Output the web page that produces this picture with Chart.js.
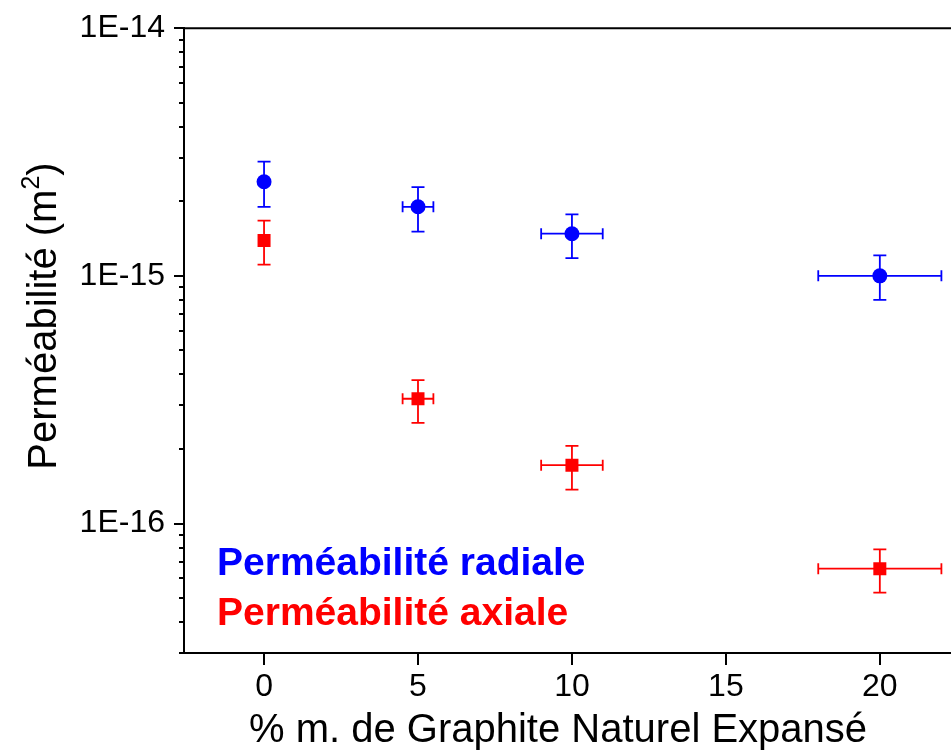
<!DOCTYPE html>
<html>
<head>
<meta charset="utf-8">
<script src="https://cdn.jsdelivr.net/npm/chart.js@4.4.1/dist/chart.umd.min.js"></script>
<style>
  html, body { margin: 0; padding: 0; background: #fff; }
  #wrap { width: 951px; height: 751px; overflow: hidden; position: relative; }
  #wrap canvas { position: absolute; left: 0; top: 0; }
</style>
</head>
<body>
<div id="wrap"><canvas id="chart" width="966" height="751"></canvas></div>
<script>
// % m. of expanded natural graphite, and its error (+/-)
const gneContent = [0, 5, 10, 20];
const gneError = [0, 0.5, 1, 2];

// radial permeability (m2) with error bar bounds
const radialPerm = [2.40e-15, 1.90e-15, 1.48e-15, 1.00e-15];
const radialLow  = [1.90e-15, 1.51e-15, 1.18e-15, 8.00e-16];
const radialHigh = [2.89e-15, 2.28e-15, 1.77e-15, 1.21e-15];

// axial permeability (m2) with error bar bounds
const axialPerm = [1.39e-15, 3.19e-16, 1.72e-16, 6.57e-17];
const axialLow  = [1.11e-15, 2.55e-16, 1.37e-16, 5.26e-17];
const axialHigh = [1.67e-15, 3.79e-16, 2.06e-16, 7.86e-17];

const xTicks = [0, 5, 10, 15, 20];
const yMin = 3e-17;
const yMax = 1e-14;
const yDecades = [-17, -16, -15];
const yMantissas = [1, 2, 3, 4, 5, 6, 7, 8, 9];

const FONT = "'Liberation Sans', Arial, sans-serif";

function isDecade(v) {
  const l = Math.log10(v);
  return Math.abs(l - Math.round(l)) < 1e-6;
}

// build log ticks: every mantissa of every decade, labels only on decades
function buildYTicks() {
  const t = [];
  yDecades.forEach(e => {
    yMantissas.forEach(m => {
      const v = m * Math.pow(10, e);
      if (v >= yMin * 0.999 && v <= yMax * 1.001) t.push({ value: v, major: m === 1 });
    });
  });
  t.push({ value: yMax, major: true });
  return t;
}

// error bars + frame + hand placed texts
const extras = {
  id: 'extras',
  beforeDatasetsDraw(chart) {
    const { ctx, scales: { x, y } } = chart;
    const sets = [
      { c: '#0000ff', v: radialPerm, lo: radialLow, hi: radialHigh },
      { c: '#ff0000', v: axialPerm, lo: axialLow, hi: axialHigh }
    ];
    ctx.save();
    ctx.lineWidth = 1.8;
    sets.forEach(s => {
      ctx.strokeStyle = s.c;
      gneContent.forEach((g, i) => {
        const px = x.getPixelForValue(g);
        const py = y.getPixelForValue(s.v[i]);
        const yl = y.getPixelForValue(s.lo[i]);
        const yh = y.getPixelForValue(s.hi[i]);
        ctx.beginPath();
        ctx.moveTo(px, yl); ctx.lineTo(px, yh);
        ctx.moveTo(px - 6.5, yl); ctx.lineTo(px + 6.5, yl);
        ctx.moveTo(px - 6.5, yh); ctx.lineTo(px + 6.5, yh);
        if (gneError[i] > 0) {
          const xl = x.getPixelForValue(g - gneError[i]);
          const xr = x.getPixelForValue(g + gneError[i]);
          ctx.moveTo(xl, py); ctx.lineTo(xr, py);
          ctx.moveTo(xl, py - 5.5); ctx.lineTo(xl, py + 5.5);
          ctx.moveTo(xr, py - 5.5); ctx.lineTo(xr, py + 5.5);
        }
        ctx.stroke();
      });
    });
    ctx.restore();
  },
  afterDraw(chart) {
    const { ctx, chartArea: a, scales: { x, y } } = chart;
    ctx.save();
    ctx.strokeStyle = '#000';
    ctx.lineWidth = 2;
    // top frame
    ctx.beginPath();
    ctx.moveTo(a.left - 1, a.top);
    ctx.lineTo(a.right, a.top);
    ctx.stroke();
    // y ticks, outward
    ctx.beginPath();
    y.ticks.forEach(t => {
      const py = Math.round(y.getPixelForValue(t.value));
      const len = isDecade(t.value) ? 10 : 5;
      ctx.moveTo(a.left, py); ctx.lineTo(a.left - len, py);
    });
    // x ticks, outward
    x.ticks.forEach(t => {
      const px = Math.round(x.getPixelForValue(t.value));
      ctx.moveTo(px, a.bottom); ctx.lineTo(px, a.bottom + 12);
    });
    ctx.stroke();

    // axis titles
    ctx.fillStyle = '#000';
    ctx.textBaseline = 'alphabetic';
    ctx.font = '40px ' + FONT;
    ctx.textAlign = 'center';
    ctx.fillText('% m. de Graphite Naturel Expansé', 558, 742);

    ctx.save();
    ctx.translate(56, 316);
    ctx.rotate(-Math.PI / 2);
    ctx.textAlign = 'left';
    const main = 'Perméabilité (m';
    ctx.font = '40px ' + FONT;
    const w1 = ctx.measureText(main).width;
    const w3 = ctx.measureText(')').width;
    ctx.font = '25px ' + FONT;
    const w2 = ctx.measureText('2').width;
    let cx = -(w1 + w2 + w3) / 2;
    ctx.font = '40px ' + FONT;
    ctx.fillText(main, cx, 0);
    cx += w1;
    ctx.font = '25px ' + FONT;
    ctx.fillText('2', cx, -17);
    cx += w2;
    ctx.font = '40px ' + FONT;
    ctx.fillText(')', cx, 0);
    ctx.restore();

    // series labels
    ctx.textAlign = 'left';
    ctx.font = 'bold 39px ' + FONT;
    ctx.fillStyle = '#0000ff';
    ctx.fillText('Perméabilité radiale', 217, 575);
    ctx.fillStyle = '#ff0000';
    ctx.fillText('Perméabilité axiale', 217, 625);
    ctx.restore();
  }
};

new Chart(document.getElementById('chart'), {
  type: 'scatter',
  data: {
    datasets: [
      {
        label: 'Perméabilité radiale',
        data: gneContent.map((g, i) => ({ x: g, y: radialPerm[i] })),
        pointStyle: 'circle',
        pointRadius: 7.5,
        pointHoverRadius: 7.5,
        backgroundColor: '#0000ff',
        borderColor: '#0000ff',
        borderWidth: 0
      },
      {
        label: 'Perméabilité axiale',
        data: gneContent.map((g, i) => ({ x: g, y: axialPerm[i] })),
        pointStyle: 'rect',
        pointRadius: 9.2,
        pointHoverRadius: 9.2,
        backgroundColor: '#ff0000',
        borderColor: '#ff0000',
        borderWidth: 0
      }
    ]
  },
  options: {
    responsive: false,
    animation: false,
    devicePixelRatio: 1,
    layout: { padding: { top: 26, right: 3, left: 0, bottom: 0 } },
    plugins: { legend: { display: false }, tooltip: { enabled: false } },
    scales: {
      x: {
        type: 'linear',
        min: -2.6,
        max: 22.5,
        afterBuildTicks: s => { s.ticks = xTicks.map(v => ({ value: v })); },
        afterFit: s => { s.height = 98; },
        grid: { drawOnChartArea: false, drawTicks: true, tickLength: 12, tickColor: 'rgba(0,0,0,0)' },
        border: { display: true, color: '#000', width: 2 },
        ticks: { color: '#000', font: { family: FONT, size: 32 }, padding: 3, autoSkip: false, maxRotation: 0 }
      },
      y: {
        type: 'logarithmic',
        min: yMin,
        max: yMax,
        afterBuildTicks: s => { s.ticks = buildYTicks(); },
        afterFit: s => { s.width = 184; },
        grid: { drawOnChartArea: false, drawTicks: true, tickLength: 10, tickColor: 'rgba(0,0,0,0)' },
        border: { display: true, color: '#000', width: 2 },
        ticks: {
          color: '#000',
          font: { family: FONT, size: 32 },
          padding: 9,
          autoSkip: false,
          callback: v => isDecade(v) ? '1E' + Math.round(Math.log10(v)) : ''
        }
      }
    }
  },
  plugins: [extras]
});
</script>
</body>
</html>
